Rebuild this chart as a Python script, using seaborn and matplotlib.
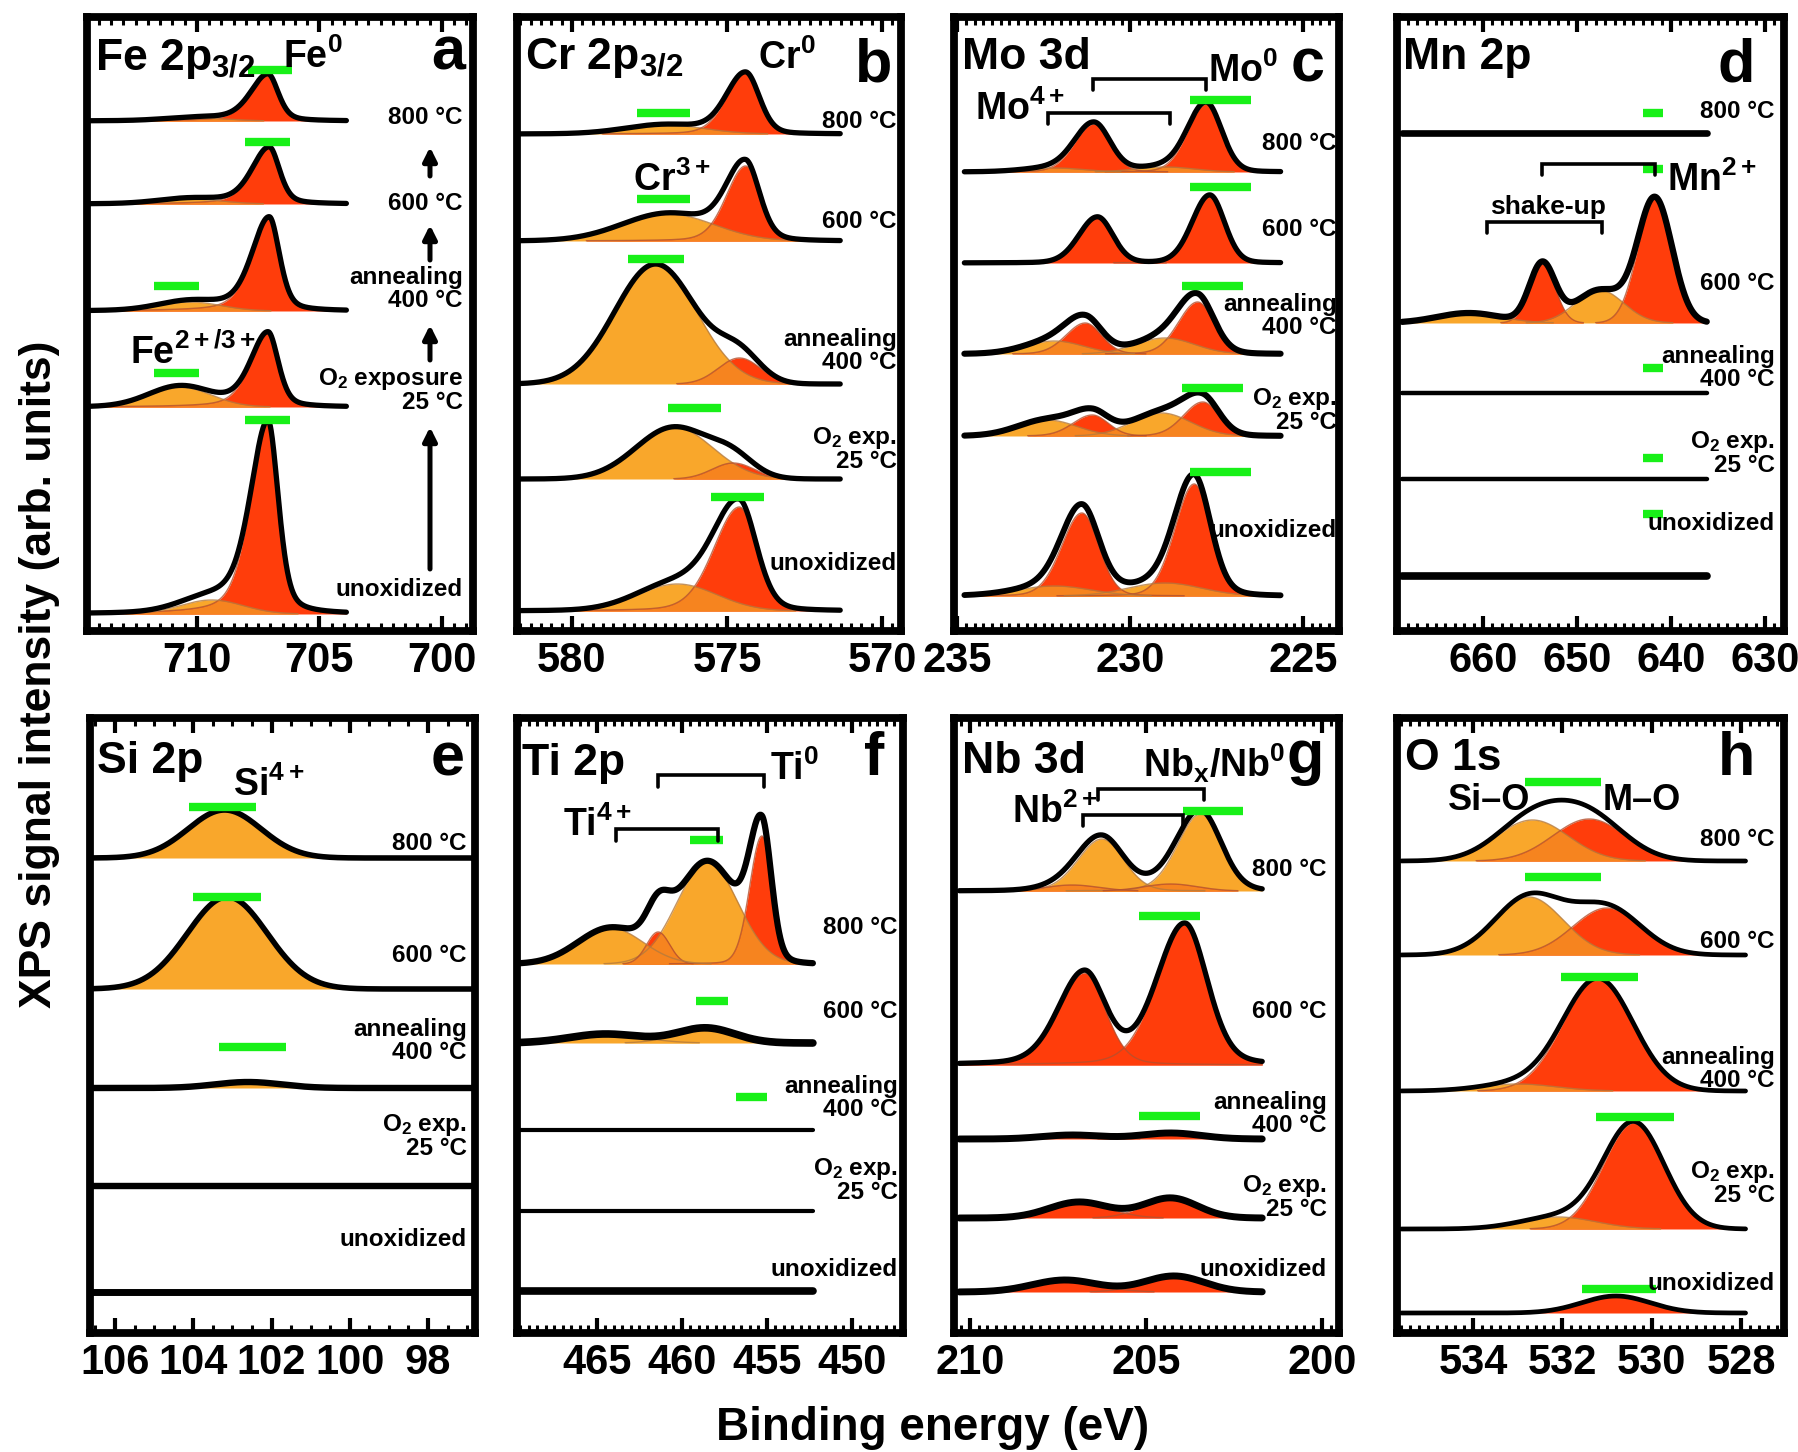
import numpy as np
import matplotlib
matplotlib.use("Agg")
import matplotlib.pyplot as plt
import seaborn as sns
from matplotlib.ticker import MultipleLocator, AutoMinorLocator
from matplotlib.patches import FancyArrowPatch

# ------------------------------------------------------------------ data
# spectrum index: 0 unoxidized, 1 O2 exposure 25 C, 2 annealing 400 C, 3 600 C, 4 800 C
# peak component: (spectrum, centre eV, fwhm eV, height (arb.), kind, high-BE tail, lorentz fraction)
fe_peaks = [
    (0, 707.1, 1.0, 191, "R", 0.7, 0.4), (0, 709.4, 3.0, 14, "O", 0, 0),
    (1, 707.1, 1.0, 75, "R", 0.7, 0.4), (1, 710.7, 3.0, 20, "O", 0, 0),
    (2, 707.05, 1.0, 94, "R", 0.7, 0.4), (2, 710.3, 3.0, 9, "O", 0, 0),
    (3, 707.05, 1.0, 57, "R", 0.7, 0.4), (3, 710.3, 3.0, 5, "O", 0, 0),
    (4, 707.1, 1.0, 47, "R", 0.7, 0.4), (4, 710.0, 3.0, 3, "O", 0, 0),
]
cr_peaks = [
    (0, 574.6, 1.3, 104, "R", 0.5, 0.2), (0, 576.6, 3.0, 27, "O", 0, 0),
    (1, 576.7, 2.9, 52, "O", 0, 0), (1, 574.8, 1.6, 16, "R", 0, 0),
    (2, 577.3, 3.1, 120, "O", 0, 0), (2, 574.6, 1.6, 26, "R", 0, 0),
    (3, 576.9, 3.5, 27, "O", 0, 0), (3, 574.4, 1.05, 75, "R", 0.4, 0.2),
    (4, 577.0, 3.0, 9, "O", 0, 0), (4, 574.4, 1.05, 61, "R", 0.4, 0.2),
]
mo_peaks = [
    (0, 228.15, 1.1, 112, "R", 0.2, 0.1), (0, 231.4, 1.15, 83, "R", 0.2, 0.1),
    (0, 229.0, 2.5, 13, "O", 0, 0), (0, 232.2, 2.5, 10, "O", 0, 0),
    (1, 227.9, 1.1, 34, "R", 0.2, 0.1), (1, 231.1, 1.1, 21, "R", 0.2, 0.1),
    (1, 229.1, 2.0, 23, "O", 0, 0), (1, 232.4, 2.0, 16, "O", 0, 0),
    (2, 228.05, 1.1, 52, "R", 0.2, 0.1), (2, 231.3, 1.1, 31, "R", 0.2, 0.1),
    (2, 229.0, 2.0, 16, "O", 0, 0), (2, 232.2, 2.0, 13, "O", 0, 0),
    (3, 227.7, 1.0, 68, "R", 0.2, 0.1), (3, 230.95, 1.05, 46, "R", 0.2, 0.1),
    (4, 227.8, 1.05, 68, "R", 0.2, 0.1), (4, 231.05, 1.1, 48, "R", 0.2, 0.1),
    (4, 229.0, 2.0, 5, "O", 0, 0), (4, 232.2, 2.0, 4, "O", 0, 0),
]
mn_peaks = [
    (3, 641.7, 4.3, 124, "R", 0, 0), (3, 653.7, 3.2, 59, "R", 0, 0),
    (3, 647.6, 6.0, 33, "O", 0, 0), (3, 661.5, 8.0, 10, "O", 0, 0),
]
si_peaks = [
    (2, 102.6, 2.0, 6, "O", 0, 0),
    (3, 103.13, 2.4, 92, "O", 0, 0),
    (4, 103.2, 2.2, 48, "O", 0, 0),
]
ti_peaks = [
    (3, 458.6, 4.0, 15, "O", 0, 0), (3, 464.5, 5.0, 9, "O", 0, 0),
    (4, 455.3, 1.3, 128, "R", 0.3, 0.1), (4, 458.5, 4.2, 102, "O", 0, 0),
    (4, 461.4, 1.6, 32, "R", 0, 0), (4, 464.2, 4.5, 36, "O", 0, 0),
]
nb_peaks = [
    (0, 204.2, 2.0, 16, "R", 0, 0), (0, 207.3, 2.2, 12, "R", 0, 0),
    (1, 204.3, 1.8, 20, "R", 0, 0), (1, 206.9, 2.0, 16, "R", 0, 0),
    (2, 204.3, 2.0, 6, "R", 0, 0), (2, 207.1, 2.0, 4, "R", 0, 0),
    (3, 203.9, 1.5, 141, "R", 0.25, 0.2), (3, 206.75, 1.4, 92, "R", 0.25, 0.2),
    (4, 203.45, 1.4, 77, "O", 0.1, 0.1), (4, 206.25, 1.45, 52, "O", 0.1, 0.1),
    (4, 204.3, 1.8, 7, "R", 0, 0), (4, 207.1, 1.8, 6, "R", 0, 0),
]
o_peaks = [
    (0, 530.8, 1.8, 17, "R", 0, 0),
    (1, 530.4, 1.6, 106, "R", 0, 0), (1, 532.1, 2.0, 12, "O", 0, 0),
    (2, 531.2, 1.85, 112, "R", 0, 0), (2, 533.0, 2.0, 7, "O", 0, 0),
    (3, 532.75, 1.8, 58, "O", 0, 0), (3, 531.0, 1.8, 47, "R", 0, 0),
    (4, 532.67, 1.9, 41, "O", 0, 0), (4, 531.4, 1.9, 42, "R", 0, 0),
]

# reference binding-energy ranges (green bars): (spectrum, high eV, low eV)
fe_bars = [(0, 708.05, 706.2), (1, 711.75, 709.9), (2, 711.75, 709.9), (3, 708.05, 706.2), (4, 707.93, 706.1)]
cr_bars = [(0, 575.5, 573.8), (1, 576.9, 575.2), (2, 578.2, 576.4), (3, 577.9, 576.2), (4, 577.9, 576.2)]
mo_bars = [(0, 228.26, 226.5), (1, 228.5, 226.75), (2, 228.5, 226.75), (3, 228.26, 226.5), (4, 228.26, 226.5)]
mn_bars = [(0, 643.0, 640.9), (1, 643.0, 640.9), (2, 643.0, 640.9), (3, 643.0, 640.9), (4, 643.0, 640.9)]
si_bars = [(2, 103.35, 101.64), (3, 104.0, 102.26), (4, 104.1, 102.4)]
ti_bars = [(2, 456.8, 455.0), (3, 459.2, 457.3), (4, 459.5, 457.6)]
nb_bars = [(2, 205.2, 203.47), (3, 205.2, 203.47), (4, 203.95, 202.25)]
o_bars = [(0, 531.55, 529.9), (1, 531.24, 529.5), (2, 532.02, 530.3), (3, 532.83, 531.13), (4, 532.83, 531.13)]

# doublet brackets: (high eV, low eV)
mo_brackets = [(231.07, 227.8), (232.38, 228.84)]
mn_brackets = [(653.7, 641.7), (659.6, 647.3)]
ti_brackets = [(461.4, 455.2), (463.9, 457.9)]
nb_brackets = [(206.36, 203.35), (206.8, 203.95)]

# tick labels
fe_ticks = [710, 705, 700]
cr_ticks = [580, 575, 570]
mo_ticks = [235, 230, 225]
mn_ticks = [660, 650, 640, 630]
si_ticks = [106, 104, 102, 100, 98]
ti_ticks = [470, 465, 460, 455, 450]
nb_ticks = [210, 205, 200]
o_ticks = [534, 532, 530, 528]

cond_long = ["unoxidized", "O$_2$ exposure\n25 °C", "annealing\n400 °C", "600 °C", "800 °C"]
cond_short = ["unoxidized", "O$_2$ exp.\n25 °C", "annealing\n400 °C", "600 °C", "800 °C"]

# ------------------------------------------------------------------ style
sns.set_theme(style="ticks")
plt.rcParams["font.family"] = ["Liberation Sans", "DejaVu Sans"]
plt.rcParams["font.weight"] = "bold"
plt.rcParams["axes.labelweight"] = "bold"
plt.rcParams["text.color"] = "black"
plt.rcParams["mathtext.fontset"] = "custom"
plt.rcParams["mathtext.rm"] = "Liberation Sans:bold"
plt.rcParams["mathtext.it"] = "Liberation Sans:bold"
plt.rcParams["mathtext.bf"] = "Liberation Sans:bold"
plt.rcParams["mathtext.default"] = "rm"

ORANGE = "#F9A72B"
RED = "#FF3D0B"
MIX = "#F6841F"
EDGE = {"O": "#B57A3C", "R": "#B4502E"}
GREEN = "#18F018"

W, H = 1799, 1452
fig = plt.figure(figsize=(W / 100, H / 100), dpi=100)

PANELS = [
    dict(box=(87, 17, 473, 631), xlim=(714.49, 698.73), ticks=fe_ticks, nminor=10, extent=(714.4, 703.9),
         peaks=fe_peaks, bars=fe_bars, base_px=[614, 407, 311, 204, 121], bar_px=[420, 373, 286, 142, 70],
         lw=[3.8] * 5, labels=cond_long, lab_x=463, lab_y=[589, 390, 289, 204, 117],
         brackets=[], br_px=[], br_len=10),
    dict(box=(517, 17, 901, 631), xlim=(581.77, 569.39), ticks=cr_ticks, nminor=15, extent=(581.7, 571.35),
         peaks=cr_peaks, bars=cr_bars, base_px=[611, 479, 384, 241, 134], bar_px=[497, 408, 259, 199, 113],
         lw=[3.8] * 5, labels=cond_short, lab_x=897, lab_y=[563, 449, 351, 221, 121],
         brackets=[], br_px=[], br_len=10),
    dict(box=(954, 17, 1339, 631), xlim=(235.1, 223.96), ticks=mo_ticks, nminor=20, extent=(234.8, 225.65),
         peaks=mo_peaks, bars=mo_bars, base_px=[596, 436, 354, 263, 172], bar_px=[472, 388, 286, 187, 100],
         lw=[4.2, 4.4, 4.4, 3.8, 3.8], labels=cond_short, lab_x=1337, lab_y=[530, 410, 316, 230, 143],
         brackets=mo_brackets, br_px=[79, 113], br_len=11),
    dict(box=(1397, 17, 1784, 631), xlim=(669.15, 627.98), ticks=mn_ticks, nminor=10, extent=(668.6, 636.2),
         peaks=mn_peaks, bars=mn_bars, base_px=[576, 479, 393, 323, 133], bar_px=[514, 458, 368, 169, 113],
         lw=[5.5, 3.2, 3.2, 4.5, 4.8], labels=cond_short, lab_x=1775, lab_y=[524, 453, 368, 284, 111],
         brackets=mn_brackets, br_px=[164, 222], br_len=11),
    dict(box=(90, 718, 475, 1333), xlim=(106.64, 96.8), ticks=si_ticks, nminor=4, extent=(106.6, 96.85),
         peaks=si_peaks, bars=si_bars, base_px=[1292, 1186, 1088, 989, 858], bar_px=[None, None, 1047, 897, 807],
         lw=[5, 4.6, 4.6, 4, 4], labels=cond_short, lab_x=467, lab_y=[1240, 1136, 1041, 955, 843],
         brackets=[], br_px=[], br_len=12),
    dict(box=(517, 718, 903, 1333), xlim=(469.7, 447.0), ticks=ti_ticks, nminor=10, extent=(469.5, 452.3),
         peaks=ti_peaks, bars=ti_bars, base_px=[1291, 1211, 1130, 1043, 964], bar_px=[None, None, 1097, 1001, 840],
         lw=[5.5, 3, 3, 5.5, 4.5], labels=cond_short, lab_x=898, lab_y=[1269, 1180, 1098, 1011, 928],
         brackets=ti_brackets, br_px=[775, 829], br_len=12),
    dict(box=(954, 718, 1339, 1333), xlim=(210.45, 199.52), ticks=nb_ticks, nminor=20, extent=(210.3, 201.7),
         peaks=nb_peaks, bars=nb_bars, base_px=[1292, 1218, 1139, 1065, 891], bar_px=[None, None, 1116, 916, 811],
         lw=[5, 5, 5, 3.8, 3.8], labels=cond_short, lab_x=1327, lab_y=[1269, 1197, 1114, 1011, 869],
         brackets=nb_brackets, br_px=[789, 815], br_len=11),
    dict(box=(1397, 718, 1784, 1333), xlim=(535.7, 527.04), ticks=o_ticks, nminor=10, extent=(535.6, 527.9),
         peaks=o_peaks, bars=o_bars, base_px=[1313, 1229, 1091, 955, 861], bar_px=[1289, 1117, 977, 877, 782],
         lw=[3.4] * 5, labels=cond_short, lab_x=1775, lab_y=[1283, 1183, 1069, 941, 840],
         brackets=[], br_px=[], br_len=12),
]


def profile(E, c, fwhm, h, tail, eta):
    hw = np.where(E > c, fwhm * (1 + tail), fwhm) / 2.0
    u = (E - c) / hw
    return h * ((1 - eta) * np.exp(-np.log(2) * u ** 2) + eta / (1 + u ** 2))


def ftext(x, y, s, size, ha="left", va="baseline", **kw):
    fig.text(x / W, 1 - y / H, s, fontsize=size, ha=ha, va=va, fontweight="bold", color="black", **kw)


for P in PANELS:
    x0, y0, x1, y1 = P["box"]
    ax = fig.add_axes([x0 / W, 1 - y1 / H, (x1 - x0) / W, (y1 - y0) / H])
    ax.set_xlim(*P["xlim"])
    ax.set_ylim(0, y1 - y0)
    E = np.linspace(P["extent"][0], P["extent"][1], 900)

    for k in range(5):
        base = y1 - P["base_px"][k]
        comps = [c for c in P["peaks"] if c[0] == k]
        curves = [(c[4], profile(E, c[1], c[2], c[3], c[5], c[6])) for c in comps]
        for kind in ("O", "R"):
            for kd, y in curves:
                if kd == kind:
                    ax.fill_between(E, base, base + y, where=y > 0.3, color=ORANGE if kind == "O" else RED,
                                    lw=0, zorder=2)
        for i in range(len(curves)):
            for j in range(i + 1, len(curves)):
                if curves[i][0] != curves[j][0]:
                    m = np.minimum(curves[i][1], curves[j][1])
                    ax.fill_between(E, base, base + m, where=m > 0.3, color=MIX, lw=0, zorder=2.5)
        for kd, y in curves:
            yy = np.where(y > 0.3, base + y, np.nan)
            ax.plot(E, yy, color=EDGE[kd], lw=1.0, alpha=0.8, zorder=3)
        env = np.zeros_like(E)
        for _, y in curves:
            env = env + y
        sns.lineplot(x=E, y=base + env, ax=ax, color="black", linewidth=P["lw"][k],
                     sort=False, estimator=None, zorder=4)

    for (k, e_hi, e_lo) in P["bars"]:
        yb = y1 - P["bar_px"][k]
        ax.plot([e_hi, e_lo], [yb, yb], color=GREEN, lw=6, solid_capstyle="butt", zorder=5)

    for (e_hi, e_lo), ypx in zip(P["brackets"], P["br_px"]):
        yb = y1 - ypx
        d = P["br_len"]
        ax.plot([e_hi, e_hi, e_lo, e_lo], [yb - d, yb, yb, yb - d], color="black", lw=2.6,
                solid_joinstyle="miter", zorder=6)

    ax.xaxis.set_major_locator(MultipleLocator(abs(P["ticks"][1] - P["ticks"][0])))
    ax.xaxis.set_minor_locator(AutoMinorLocator(P["nminor"]))
    ax.tick_params(axis="x", which="both", direction="in", top=True, bottom=True,
                   labelsize=30, pad=7, color="black", labelcolor="black")
    ax.tick_params(axis="x", which="major", length=11, width=3.0)
    ax.tick_params(axis="x", which="minor", length=5.5, width=2.2)
    ax.set_yticks([])
    ax.set_xlabel("")
    ax.set_ylabel("")
    for lab in ax.get_xticklabels():
        lab.set_fontweight("bold")
    for sp in ax.spines.values():
        sp.set_visible(True)
        sp.set_linewidth(5.6)
        sp.set_color("black")
    ax.set_facecolor("white")

    for s, ypx in zip(P["labels"], P["lab_y"]):
        ftext(P["lab_x"], ypx, s, 17.5, ha="right", va="center", linespacing=0.95, zorder=10)

# ------------------------------------------------------------------ annotations
notes = [
    ("Fe 2p$_{3/2}$", 95, 70, 32, "left"), ("Fe$^0$", 283, 68, 27, "left"), ("a", 465, 70, 44, "right"),
    ("Fe$^{2+/3+}$", 130, 364, 27, "left"),
    ("Cr 2p$_{3/2}$", 525, 69, 32, "left"), ("Cr$^0$", 758, 69, 27, "left"), ("b", 892, 81, 44, "right"),
    ("Cr$^{3+}$", 633, 191, 27, "left"),
    ("Mo 3d", 962, 69, 32, "left"), ("Mo$^0$", 1208, 82, 27, "left"), ("c", 1325, 82, 44, "right"),
    ("Mo$^{4+}$", 975, 120, 27, "left"),
    ("Mn 2p", 1403, 69, 32, "left"), ("d", 1755, 82, 44, "right"), ("Mn$^{2+}$", 1667, 191, 27, "left"),
    ("shake-up", 1548, 214, 19, "center"),
    ("Si 2p", 97, 773, 32, "left"), ("e", 465, 775, 44, "right"), ("Si$^{4+}$", 233, 796, 27, "left"),
    ("Ti 2p", 522, 775, 32, "left"), ("f", 884, 775, 44, "right"), ("Ti$^0$", 770, 780, 27, "left"),
    ("Ti$^{4+}$", 563, 836, 27, "left"),
    ("Nb 3d", 962, 773, 32, "left"), ("g", 1324, 773, 44, "right"), ("Nb$_x$/Nb$^0$", 1143, 777, 27, "left"),
    ("Nb$^{2+}$", 1012, 823, 27, "left"),
    ("O 1s", 1405, 770, 32, "left"), ("h", 1755, 775, 44, "right"), ("Si–O", 1448, 810, 26, "left"),
    ("M–O", 1603, 810, 26, "left"),
]
for s, x, y, size, ha in notes:
    ftext(x, y, s, size, ha=ha, zorder=10)

# sequence arrows in panel a
for y_tail, y_head in [(569, 427), (360, 325), (260, 225), (176, 147)]:
    fig.add_artist(FancyArrowPatch((430 / W, 1 - y_tail / H), (430 / W, 1 - y_head / H),
                                   transform=fig.transFigure, arrowstyle="-|>", mutation_scale=20,
                                   lw=3.6, color="black", shrinkA=0, shrinkB=0))

fig.text(40 / W, 1 - 674 / H, "XPS signal intensity (arb. units)", rotation=90, fontsize=32,
         fontweight="bold", ha="center", va="center", color="black")
fig.text(933 / W, 1 - 1428 / H, "Binding energy (eV)", fontsize=33, fontweight="bold",
         ha="center", va="center", color="black")

fig.savefig("out.png", dpi=100, facecolor="white")
